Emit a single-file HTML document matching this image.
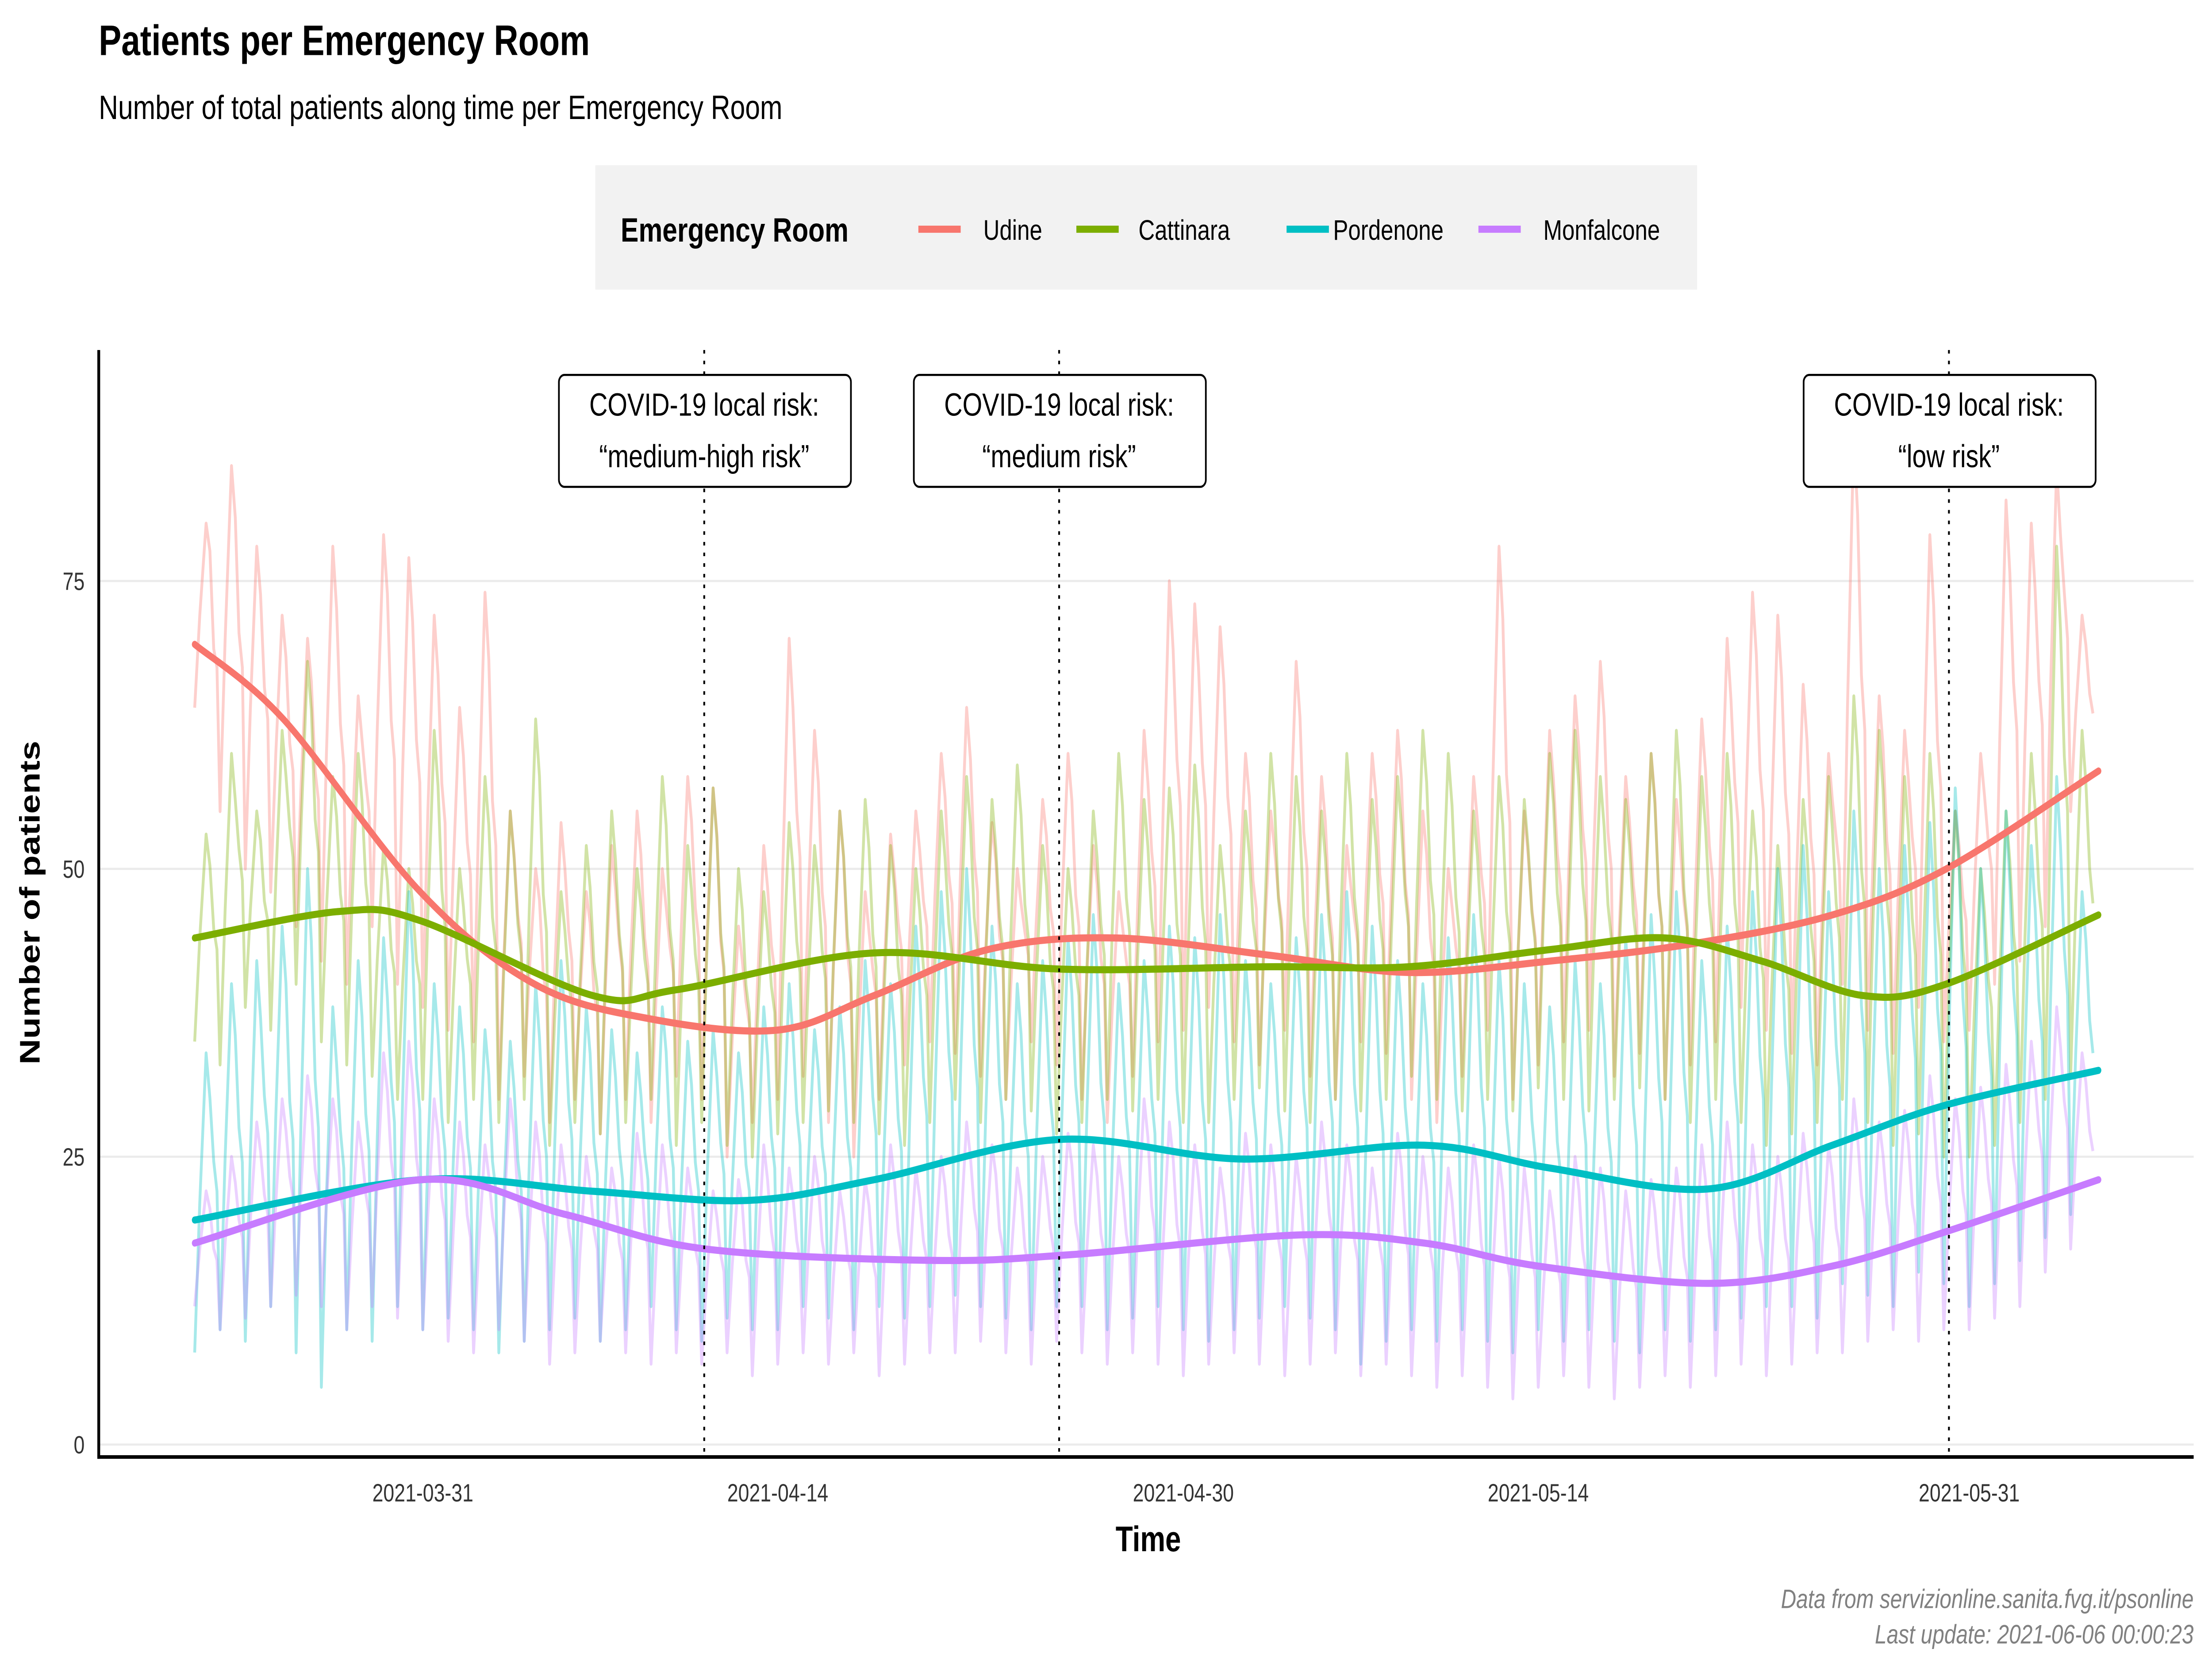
<!DOCTYPE html>
<html><head><meta charset="utf-8"><style>
html,body{margin:0;padding:0;background:#fff;width:100%;height:100%;overflow:hidden;}
svg{display:block;width:100vw;height:100vh;font-family:"Liberation Sans","DejaVu Sans",sans-serif;}
</style></head><body>
<svg id="chart" width="6299" height="3779" viewBox="0 0 1568 941" preserveAspectRatio="none" xmlns="http://www.w3.org/2000/svg">
<rect x="0" y="0" width="1568" height="941" fill="#fff"/>
<text x="70" y="31" font-size="24" font-weight="bold" fill="#000">Patients per Emergency Room</text>
<text x="70" y="67" font-size="19" fill="#000">Number of total patients along time per Emergency Room</text>
<g>
<rect x="422" y="93" width="781" height="70" fill="#f2f2f2"/>
<text x="440" y="136" font-size="19" font-weight="bold">Emergency Room</text>
<g><line x1="651" y1="129" x2="681" y2="129" stroke="#F8766D" stroke-width="4"/><text x="697" y="135" font-size="16">Udine</text></g>
<g><line x1="763" y1="129" x2="793" y2="129" stroke="#7CAE00" stroke-width="4"/><text x="807" y="135" font-size="16">Cattinara</text></g>
<g><line x1="912" y1="129" x2="942" y2="129" stroke="#00BFC4" stroke-width="4"/><text x="945" y="135" font-size="16">Pordenone</text></g>
<g><line x1="1048" y1="129" x2="1078" y2="129" stroke="#C77CFF" stroke-width="4"/><text x="1094" y="135" font-size="16">Monfalcone</text></g>
</g>
<g id="grid"></g>
<g id="noise"></g>
<g id="smooth"></g>
<g id="annot"></g>
<g id="axes"></g>
<text x="814" y="873" font-size="20" font-weight="bold" text-anchor="middle">Time</text>
<text transform="translate(28,508) rotate(-90)" font-size="20" font-weight="bold" text-anchor="middle">Number of patients</text>
<text x="1555" y="905" font-size="15" font-style="italic" fill="#808080" text-anchor="end">Data from servizionline.sanita.fvg.it/psonline</text>
<text x="1555" y="925" font-size="15" font-style="italic" fill="#808080" text-anchor="end">Last update: 2021-06-06 00:00:23</text>
</svg>
<script>
const NS="http://www.w3.org/2000/svg";
const seriesNames=["Udine","Cattinara","Pordenone","Monfalcone"];
const seriesColors=["#F8766D","#7CAE00","#00BFC4","#C77CFF"];
const yTicks=[0,25,50,75];
const xTickLabels=["2021-03-31","2021-04-14","2021-04-30","2021-05-14","2021-05-31"];
const xTickDays=[9,23,39,53,70];
const riskDays=[20.1,34.1,69.2];
const riskLabels=["\u201cmedium-high risk\u201d","\u201cmedium risk\u201d","\u201clow risk\u201d"];
// daily highs/lows (day 0 = 2021-03-22)
const udineHi=[80,85,78,72,70,78,65,79,77,72,64,74,55,50,54,48,52,55,50,58,57,45,52,70,62,55,48,53,55,60,64,54,50,56,60,52,48,62,75,73,71,60,55,68,58,52,60,62,55,50,58,78,55,62,65,68,58,60,56,63,70,74,72,66,60,88,65,62,79,55,60,82,80,85,72];
const udineLo=[64,55,50,48,45,42,40,45,40,38,36,35,30,32,28,30,27,30,28,32,30,25,28,30,32,28,25,30,33,35,34,32,30,35,33,30,28,32,35,36,38,35,33,36,32,30,35,34,30,28,32,36,30,33,35,36,32,34,30,33,35,38,36,34,33,40,36,34,38,35,36,40,42,45,55];
const cattHi=[53,60,55,62,68,58,60,52,50,62,50,58,55,63,48,52,55,50,58,52,57,50,48,54,52,55,56,52,50,55,58,56,59,52,50,55,60,56,57,59,52,55,60,58,55,60,56,58,62,60,55,58,56,60,62,58,56,60,62,58,60,55,52,56,58,65,62,58,60,55,50,55,60,78,62];
const cattLo=[35,33,38,36,40,35,33,32,30,30,28,30,28,30,26,28,27,28,30,26,28,26,25,27,28,29,28,27,26,28,30,28,30,29,27,28,30,29,30,28,28,30,31,29,28,30,29,30,32,30,29,30,29,31,30,29,30,31,30,28,30,28,26,27,28,30,28,26,27,25,25,26,28,30,32];
const pordHi=[34,40,42,45,50,38,42,44,48,40,38,36,35,40,42,38,36,34,38,35,36,34,38,40,36,38,42,40,45,48,50,45,40,42,44,46,40,42,45,44,46,42,40,44,46,48,45,42,40,44,46,42,40,38,42,40,44,46,48,42,45,48,50,52,48,55,50,52,54,57,50,55,52,58,48];
const pordLo=[8,10,9,12,8,5,10,9,12,10,11,10,8,9,10,11,9,10,12,10,9,11,10,10,12,11,10,12,11,12,13,12,11,10,12,12,10,11,12,10,9,10,11,12,11,10,7,9,10,9,10,9,8,10,9,10,9,8,10,9,10,11,12,12,11,14,13,12,15,14,12,14,16,18,20];
const monfHi=[22,25,28,30,32,30,28,34,35,30,28,26,30,28,26,25,24,27,26,24,22,23,26,24,25,22,23,26,24,25,28,26,24,25,27,26,25,30,28,26,24,27,26,25,28,26,24,27,25,24,26,25,24,22,25,24,22,23,24,26,28,26,25,27,26,30,28,29,32,30,31,33,35,38,34];
const monfLo=[12,10,11,12,13,12,10,12,11,10,9,8,10,9,7,8,9,8,7,8,7,8,6,7,8,7,8,6,7,8,8,9,8,7,9,8,7,8,7,6,7,8,7,6,7,8,6,7,6,5,6,5,4,5,6,5,4,5,6,5,6,7,6,7,8,8,9,10,9,10,10,11,12,15,17];
// smoothed trend
const udineSmDays=[0,3.5,8.9,13.4,17.9,23,26.8,31.3,36.3,42.4,47.9,53.5,59.1,64.6,69.1,75.1];
const udineSmVals=[69.5,63,48,40,37,36,39,43,44,42.5,41,42,43.5,46,50,58.5];
const cattSmDays=[0,5.7,8.9,15.7,19,26.8,34.1,42.4,47.9,53.5,58,61.8,65.8,69.1,75.1];
const cattSmVals=[44,46.3,45.5,39,39.5,42.7,41.3,41.5,41.5,43,44,42,39,40,46];
const pordSmDays=[0,8.9,15.7,21.8,26.8,34.1,41.3,48.5,53.5,59.7,64.6,69.1,75.1];
const pordSmVals=[19.5,23,22,21.2,23,26.5,24.8,26,24,22.2,26,29.5,32.5];
const monfSmDays=[0,8.9,14.6,20.1,29,34.6,43.5,48.5,53,59.7,64.6,69.1,75.1];
const monfSmVals=[17.5,23,20,17,16,16.5,18.2,17.5,15.5,14,15.5,18.5,23];

const X0=138, PX_DAY=17.97, Y0=813, PX_UNIT=6.48;
function xScale(d){return X0+d*PX_DAY;}
function yScale(v){return Y0-v*PX_UNIT;}
function mk(tag,attrs,parent){const e=document.createElementNS(NS,tag);for(const k in attrs)e.setAttribute(k,attrs[k]);parent.appendChild(e);return e;}

const grid=document.getElementById('grid');
yTicks.forEach(t=>{
  const l=mk('line',{x1:70,x2:1555,y1:yScale(t),y2:yScale(t),stroke:'#ebebeb','stroke-width':1.2},grid);
  
  
});

const his=[udineHi,cattHi,pordHi,monfHi], los=[udineLo,cattLo,pordLo,monfLo];
const noise=document.getElementById('noise');
his.forEach((hi,s)=>{
  const lo=los[s];let pts=[];
  const n=Math.min(hi.length,lo.length);
  for(let d=0;d<n;d++){
    const nextLo=d+1<n?lo[d+1]:lo[d];
    pts.push([d,lo[d]],[d+0.2,(lo[d]+hi[d])/2],[d+0.45,hi[d]],[d+0.6,hi[d]*0.85+lo[d]*0.15],[d+0.75,(hi[d]+nextLo)/2+(hi[d]-lo[d])*0.1],[d+0.88,(hi[d]+nextLo)/2]);
  }
  const p=mk('path',{d:'M'+pts.map(q=>xScale(q[0]).toFixed(1)+','+yScale(q[1]).toFixed(1)).join('L'),fill:'none',stroke:seriesColors[s],'stroke-width':2,'stroke-opacity':0.35,'stroke-linejoin':'round'},noise);
  
  
});

const smD=[udineSmDays,cattSmDays,pordSmDays,monfSmDays], smV=[udineSmVals,cattSmVals,pordSmVals,monfSmVals];
const smooth=document.getElementById('smooth');
smD.forEach((ds,s)=>{
  const P=ds.map((d,i)=>[xScale(d),yScale(smV[s][i])]);
  let d='M'+P[0][0]+','+P[0][1];
  for(let i=0;i<P.length-1;i++){
    const p0=P[i-1]||P[i],p1=P[i],p2=P[i+1],p3=P[i+2]||P[i+1];
    const c1=[p1[0]+(p2[0]-p0[0])/6,p1[1]+(p2[1]-p0[1])/6];
    const c2=[p2[0]-(p3[0]-p1[0])/6,p2[1]-(p3[1]-p1[1])/6];
    d+='C'+c1.join(',')+' '+c2.join(',')+' '+p2.join(',');
  }
  const p=mk('path',{d:d,fill:'none',stroke:seriesColors[s],'stroke-width':4,'stroke-linecap':'round'},smooth);
  
  
});

const annot=document.getElementById('annot');
riskDays.forEach((d,i)=>{
  const x=xScale(d);
  const l=mk('line',{x1:x,x2:x,y1:197,y2:820,stroke:'#000','stroke-width':1.3,'stroke-dasharray':'2,4'},annot);
  
  
  const g=mk('g',{},annot);
  
  
  mk('rect',{x:x-103,y:211,width:207,height:63,rx:4,fill:'#fff',stroke:'#000','stroke-width':1.2},g);
  const t1=mk('text',{x:x,y:234,'font-size':18,'text-anchor':'middle'},g);t1.textContent='COVID-19 local risk:';
  const t2=mk('text',{x:x,y:263,'font-size':18,'text-anchor':'middle'},g);t2.textContent=riskLabels[i];
});

const axes=document.getElementById('axes');
const ya=mk('line',{x1:70,x2:70,y1:197,y2:821,stroke:'#000','stroke-width':2},axes);

const xa=mk('line',{x1:69,x2:1555,y1:820,y2:820,stroke:'#000','stroke-width':2},axes);

yTicks.forEach(t=>{
  const tx=mk('text',{x:60,y:yScale(t)+5,'font-size':14,'text-anchor':'end',fill:'#333'},axes);
  tx.textContent=t;
  
  
});
xTickDays.forEach((d,i)=>{
  const tx=mk('text',{x:xScale(d),y:845,'font-size':14,'text-anchor':'middle',fill:'#333'},axes);
  tx.textContent=xTickLabels[i];
  
  
});
</script>
</body></html>
